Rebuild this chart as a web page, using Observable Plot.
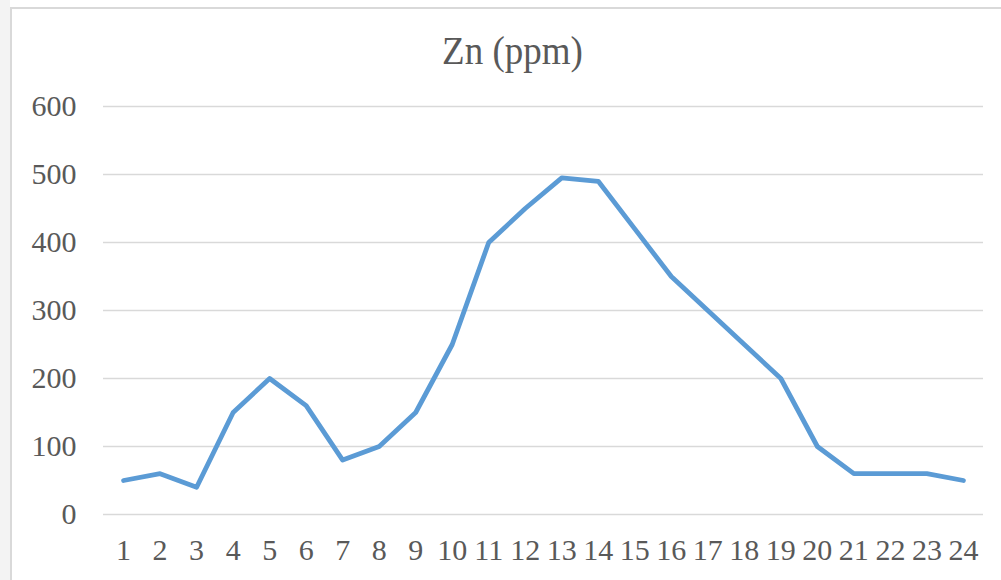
<!DOCTYPE html>
<html>
<head>
<meta charset="utf-8">
<script src="https://cdn.jsdelivr.net/npm/d3@7"></script>
<script src="https://cdn.jsdelivr.net/npm/@observablehq/plot@0.6"></script>
<style>
  html, body { margin: 0; padding: 0; background: #fff; }
  #page { position: relative; width: 1001px; height: 580px; overflow: hidden; }
  #strip { position: absolute; left: 0; top: 0; width: 10px; height: 580px; background: #f3f3f3; }
  #edgeLeft { position: absolute; left: 10px; top: 7px; width: 2px; height: 573px; background: #d9d9d9; }
  #edgeTop { position: absolute; left: 10px; top: 7px; width: 991px; height: 2px; background: #d9d9d9; }
  #title {
    position: relative; height: 90px; width: 1001px;
    font-family: "Liberation Serif", Tinos, "Times New Roman", "DejaVu Serif", serif;
    font-size: 37px; color: #595959; text-align: center;
  }
  #title span { position: absolute; left: 0; right: 0; top: 32px; padding-left: 24px; line-height: 37px; transform: scaleY(1.1); }
  #chart { position: relative; }
  #chart svg text { font-family: "Liberation Serif", Tinos, "Times New Roman", "DejaVu Serif", serif; }
</style>
</head>
<body>
<div id="page">
  <div id="strip"></div>
  <div id="edgeLeft"></div>
  <div id="edgeTop"></div>
  <div id="title"><span>Zn (ppm)</span></div>
  <div id="chart"></div>
</div>
<script>
// Sample numbers along the profile
const samples = ["1","2","3","4","5","6","7","8","9","10","11","12","13","14","15","16","17","18","19","20","21","22","23","24"];
// Zinc concentration for each sample (ppm)
const zn = [50, 60, 40, 150, 200, 160, 80, 100, 150, 250, 400, 450, 495, 490, 420, 350, 300, 250, 200, 100, 60, 60, 60, 50];
// Value axis ticks
const yTicks = [0, 100, 200, 300, 400, 500, 600];

const rows = samples.map((s, i) => ({sample: s, zn: zn[i]}));

const serif = "'Liberation Serif', Tinos, 'Times New Roman', 'DejaVu Serif', serif";

const chart = Plot.plot({
  width: 1001,
  height: 490,
  marginLeft: 103,
  marginRight: 18,
  marginTop: 16,
  marginBottom: 66,
  style: {fontFamily: serif, fontSize: "30px", color: "#595959", background: "transparent", overflow: "visible"},
  x: {type: "point", domain: samples, padding: 0.55, round: false, label: null},
  y: {domain: [0, 600], label: null},
  marks: [
    Plot.gridY(yTicks, {stroke: "#d9d9d9", strokeOpacity: 1, strokeWidth: 1.3}),
    Plot.axisY(yTicks, {tickSize: 0, tickPadding: 27, fontSize: 30, fill: "#595959", label: null}),
    Plot.axisX({tickSize: 0, tickPadding: 24, fontSize: 30, fill: "#595959", label: null}),
    Plot.line(rows, {x: "sample", y: "zn", stroke: "#5b9bd5", strokeWidth: 4.8, strokeLinejoin: "round", strokeLinecap: "round"})
  ]
});
document.getElementById("chart").appendChild(chart);
</script>
</body>
</html>
